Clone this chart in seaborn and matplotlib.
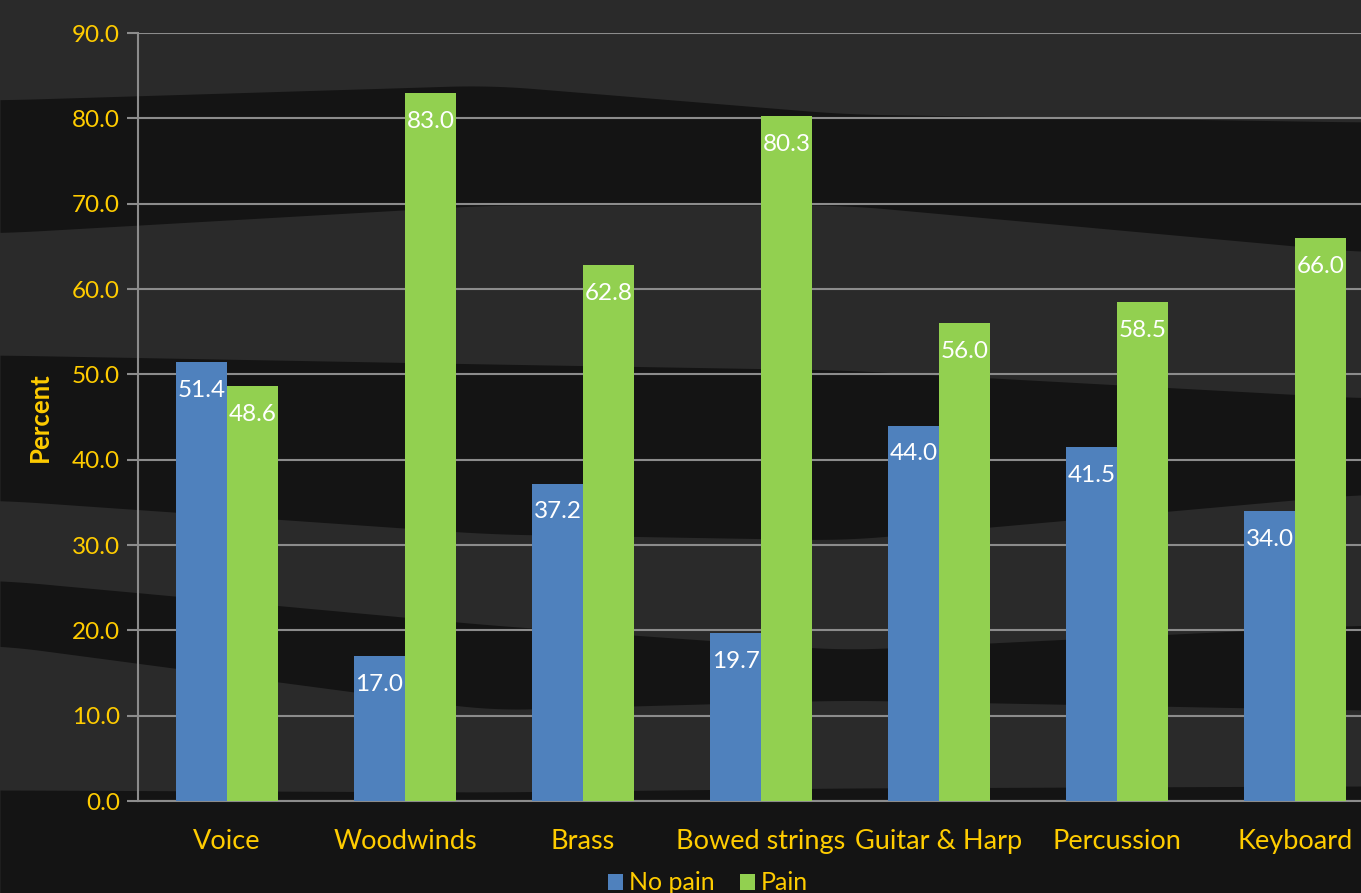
import numpy as np
import pandas as pd
import matplotlib
matplotlib.use("Agg")
import matplotlib.pyplot as plt
import seaborn as sns
from matplotlib.patches import Patch

# Share of musicians reporting pain, by instrument group
categories = ["Voice", "Woodwinds", "Brass", "Bowed strings", "Guitar & Harp", "Percussion", "Keyboard"]
no_pain = [51.4, 17.0, 37.2, 19.7, 44.0, 41.5, 34.0]
pain = [48.6, 83.0, 62.8, 80.3, 56.0, 58.5, 66.0]
series = ["No pain", "Pain"]
y_ticks = [0, 10, 20, 30, 40, 50, 60, 70, 80, 90]

df = pd.DataFrame({
    "Instrument": categories * 2,
    "Group": [series[0]] * len(categories) + [series[1]] * len(categories),
    "Percent": no_pain + pain,
})

sns.set_theme(style="white")
plt.rcParams["font.family"] = ["Lato", "DejaVu Sans"]

GOLD = "#FFCC00"
BLUE = "#4F81BD"
GREEN = "#92D050"
GRID = "#8C8C8C"
BASE = "#2a2a2a"
SHADE = "#141414"

W, H = 1361, 893
fig = plt.figure(figsize=(W / 100, H / 100), dpi=100)
fig.patch.set_facecolor(BASE)

# dark textured backdrop: darker wavy bands over a charcoal base (pixel rows from top)
bg = fig.add_axes([0, 0, 1, 1], zorder=-10)
bg.set_xlim(0, W)
bg.set_ylim(H, 0)
bg.axis("off")
xs = np.linspace(0, W, 400)
knots = [0, 490, 845, 1361]
band_edges = [
    ([100, 85, 114, 122], [233, 205, 205, 252]),
    ([355, 364, 370, 398], [500, 534, 540, 494]),
    ([580, 625, 650, 625], [645, 710, 700, 710]),
    ([790, 792, 788, 786], [893, 893, 893, 893]),
]
kern = np.ones(25) / 25
for top_k, bot_k in band_edges:
    top = np.interp(xs, knots, top_k)
    bot = np.interp(xs, knots, bot_k)
    # gentle smoothing of the piecewise edges
    top = np.convolve(np.pad(top, 12, mode="edge"), kern, mode="valid")
    bot = np.convolve(np.pad(bot, 12, mode="edge"), kern, mode="valid")
    bg.fill_between(xs, top, bot, color=SHADE, lw=0)

ax = fig.add_axes([138 / W, 92 / H, 1246 / W, 768 / H])
ax.set_facecolor("none")

sns.barplot(data=df, x="Instrument", y="Percent", hue="Group",
            palette=[BLUE, GREEN], width=0.573, gap=0, saturation=1,
            edgecolor="none", linewidth=0, ax=ax, legend=False, zorder=3)

for cont in ax.containers:
    ax.bar_label(cont, fmt="%.1f", label_type="edge", padding=-28,
                 color="white", fontsize=17.5, zorder=4)

ax.set_ylim(0, 90)
ax.set_xlim(-0.5, 6.5)
ax.set_yticks(y_ticks)
ax.set_yticklabels([f"{v:.1f}" for v in y_ticks], color=GOLD, fontsize=17.5)
ax.yaxis.grid(True, color=GRID, lw=1.5, zorder=0)
ax.set_axisbelow(True)

ax.set_xticks(range(len(categories)))
ax.set_xticklabels(categories, color=GOLD, fontsize=19.5)
ax.set_xticks(np.arange(-0.5, len(categories), 1), minor=True)
ax.tick_params(axis="x", which="major", length=0, pad=20)
ax.tick_params(axis="x", which="minor", length=8, width=1.5, color=GRID)
ax.tick_params(axis="y", length=8, width=1.5, color=GRID, pad=5, left=True)

for side in ["top", "right"]:
    ax.spines[side].set_visible(False)
for side in ["left", "bottom"]:
    ax.spines[side].set_color(GRID)
    ax.spines[side].set_linewidth(1.5)

ax.set_xlabel("")
ax.set_ylabel("Percent", color=GOLD, fontsize=18.5, fontweight="bold", labelpad=14)

handles = [Patch(facecolor=BLUE, edgecolor="none"), Patch(facecolor=GREEN, edgecolor="none")]
fig.legend(handles, series, loc="center", bbox_to_anchor=(708 / W, 10 / H),
           ncol=2, frameon=False, fontsize=18, labelcolor=GOLD,
           handlelength=0.6, handleheight=0.6, handletextpad=0.25, columnspacing=1.0)

fig.savefig("out.png", dpi=100, facecolor=fig.get_facecolor())
